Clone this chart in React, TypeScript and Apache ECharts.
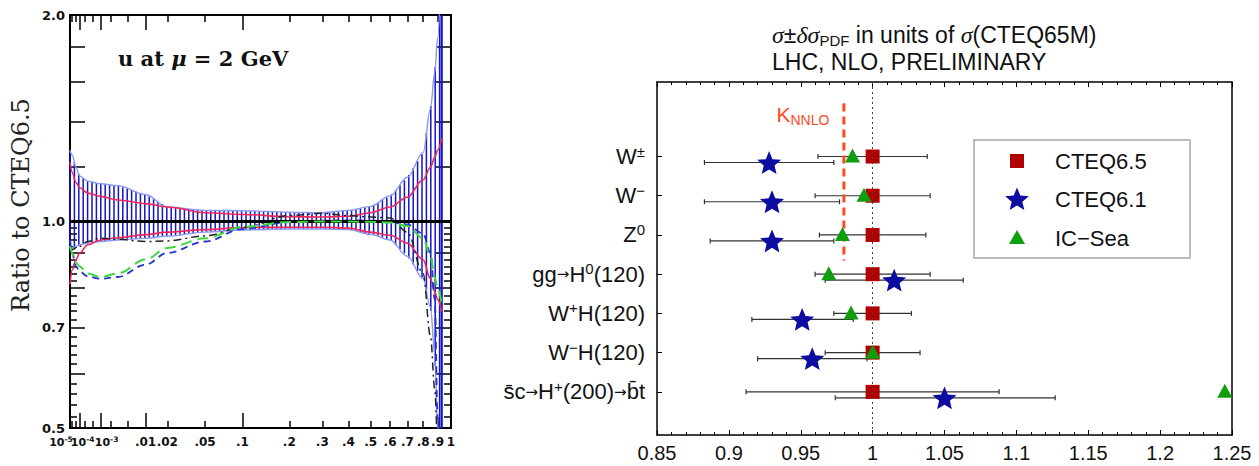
import React, { useEffect, useRef } from "react";
import * as echarts from "echarts";

// ---------------- Left panel: u at mu = 2 GeV, ratio to CTEQ6.5 ----------------
const X_PTS = [1e-5, 2e-5, 5e-5, 1e-4, 3e-4, 1e-3, 3e-3, 0.01, 0.02, 0.05, 0.1, 0.2, 0.3, 0.4, 0.5, 0.6, 0.7, 0.8, 0.85, 0.88, 0.9, 0.93];
const BAND_UPPER = [1.27, 1.25, 1.2, 1.165, 1.145, 1.135, 1.128, 1.095, 1.05, 1.038, 1.037, 1.032, 1.03, 1.038, 1.052, 1.09, 1.16, 1.26, 1.46, 1.65, 1.85, 2.5];
const BAND_LOWER = [0.91, 0.915, 0.92, 0.925, 0.93, 0.935, 0.94, 0.945, 0.952, 0.965, 0.972, 0.975, 0.975, 0.973, 0.958, 0.94, 0.89, 0.825, 0.75, 0.64, 0.5, 0.4];
const RED_UPPER = [1.22, 1.18, 1.14, 1.12, 1.1, 1.088, 1.075, 1.062, 1.05, 1.03, 1.024, 1.016, 1.015, 1.018, 1.03, 1.05, 1.085, 1.15, 1.2, 1.24, 1.27, 1.32];
const RED_LOWER = [0.81, 0.85, 0.88, 0.9, 0.925, 0.94, 0.947, 0.957, 0.965, 0.973, 0.98, 0.981, 0.981, 0.978, 0.965, 0.955, 0.93, 0.88, 0.825, 0.79, 0.77, 0.74];
const GREEN_DASHED = [0.92, 0.9, 0.87, 0.86, 0.84, 0.83, 0.84, 0.88, 0.915, 0.945, 0.982, 0.998, 1.0, 1.0, 0.999, 0.997, 0.985, 0.945, 0.89, 0.83, 0.8, 0.76];
const BLUE_DASHED = [0.94, 0.9, 0.86, 0.845, 0.832, 0.825, 0.83, 0.865, 0.9, 0.935, 0.975, 0.998, 1.003, 1.004, 1.003, 1.0, 0.99, 0.96, 0.9, 0.77, 0.52, 0.4];
const BLACK_DASHDOT = [0.9, 0.91, 0.915, 0.92, 0.935, 0.945, 0.942, 0.935, 0.937, 0.953, 0.98, 1.02, 1.028, 1.02, 1.015, 1.012, 0.965, 0.84, 0.68, 0.57, 0.48, 0.4];

const X_TICKS_MAJOR = [1e-4, 1e-3, 0.01, 0.1];
const X_TICKS_MINOR = [1e-5, 2e-5, 5e-5, 2e-4, 5e-4, 2e-3, 5e-3, 0.02, 0.05, 0.2, 0.3, 0.4, 0.5, 0.6, 0.7, 0.8, 0.9, 1];
const X_LABEL_VALUES = [1e-5, 1e-4, 1e-3, 0.01, 0.02, 0.05, 0.1, 0.2, 0.3, 0.4, 0.5, 0.6, 0.7, 0.8, 0.9, 1];
const X_LABELS = ["10{e|-5}", "10{e|-4}", "10{e|-3}", ".01", ".02", ".05", ".1", ".2", ".3", ".4", ".5", ".6", ".7", ".8", ".9", "1"];
const Y_TICKS_MAJOR = [0.5, 0.6, 0.7, 0.8, 0.9, 1.0, 1.2, 1.4, 1.6, 1.8, 2.0];
const Y_TICKS_MINOR = [0.52, 0.54, 0.56, 0.58, 0.62, 0.64, 0.66, 0.68, 0.72, 0.74, 0.76, 0.78, 0.82, 0.84, 0.86, 0.88, 0.92, 0.94, 0.96, 0.98];
const Y_LABEL_VALUES = [0.5, 0.7, 1.0, 2.0];
const LEFT_TITLE = "u at {i|μ} = 2 GeV";
const LEFT_YNAME = "Ratio to CTEQ6.5";

// ---------------- Right panel: cross sections ----------------
const ROW_LABELS = [
  "W{sup|±}",
  "W{sup|−}",
  "Z{sup|0}",
  "gg{ar|→}H{sup|0}(120)",
  "W{sup|+}H(120)",
  "W{sup|−}H(120)",
  "s\u0304c{ar|→}H{sup|+}(200){ar|→}b\u0304t",
];
const CT65_VAL = [1, 1, 1, 1, 1, 1, 1];
const CT65_LO = [0.962, 0.96, 0.963, 0.96, 0.973, 0.967, 0.912];
const CT65_HI = [1.038, 1.04, 1.037, 1.04, 1.027, 1.033, 1.088];
const CT61_VAL = [0.928, 0.93, 0.93, 1.015, 0.951, 0.958, 1.05];
const CT61_LO = [0.883, 0.883, 0.887, 0.967, 0.916, 0.92, 0.974];
const CT61_HI = [0.973, 0.977, 0.973, 1.063, 0.9865, 0.996, 1.127];
const ICSEA_VAL = [0.986, 0.994, 0.979, 0.9695, 0.985, 1.0, 1.245];
const K_NNLO = 0.98;
const K_ROW_SPAN = [-1.35, 2.65];
const LEGEND_NAMES = ["CTEQ6.5", "CTEQ6.1", "IC−Sea"];
const RIGHT_TITLE = "{g|σ}±{g|δσ}{sub|PDF} in units of {g|σ}(CTEQ65M)\nLHC, NLO, PRELIMINARY";

// ---------------- styling ----------------
const C65 = "#b00000";
const C61 = "#0c0ca0";
const CIC = "#0e9e0e";
const HATCH = "#1414c8";
const HATCH_STEP = 4.4;

const cb = (x: number) => Math.cbrt(x);
const lg = (v: number) => Math.log10(v);
const XMIN = cb(1e-5);
const YMIN = lg(0.5);
const YMAX = lg(2);

function starPoints(cx: number, cy: number, R: number, r: number): number[][] {
  const pts: number[][] = [];
  for (let i = 0; i < 10; i++) {
    const a = -Math.PI / 2 + (i * Math.PI) / 5;
    const rad = i % 2 === 0 ? R : r;
    pts.push([cx + rad * Math.cos(a), cy + rad * Math.sin(a)]);
  }
  return pts;
}
const STAR_PATH =
  "path://M" + starPoints(12, 12, 12, 5.4).map((p) => p[0].toFixed(2) + " " + p[1].toFixed(2)).join(" L") + " Z";

function curve(vals: number[]) {
  return X_PTS.map((x, i) => [cb(x), lg(vals[i])]);
}

function buildOption(): any {
  const hatchData = X_PTS.slice(0, -1).map((x, i) => [
    cb(x), lg(BAND_LOWER[i]), lg(BAND_UPPER[i]),
    cb(X_PTS[i + 1]), lg(BAND_LOWER[i + 1]), lg(BAND_UPPER[i + 1]),
  ]);
  const lastSeg = hatchData.length - 1;

  const leftLine = (name: string, vals: number[], color: string, width: number, type: any, extra: any = {}) => ({
    type: "line",
    name,
    xAxisIndex: 0,
    yAxisIndex: 0,
    data: curve(vals),
    smooth: 0.35,
    smoothMonotone: "x",
    symbol: "none",
    lineStyle: { color, width, type },
    silent: true,
    ...extra,
  });

  const xLabelText = (v: number) => {
    const i = X_LABEL_VALUES.findIndex((t) => Math.abs(cb(t) - v) < 1e-9);
    return i < 0 ? "" : X_LABELS[i];
  };

  const lx = (position: string, ticks: number[], len: number) => ({
    gridIndex: 0,
    type: "value",
    min: XMIN,
    max: 1,
    position,
    axisLine: { show: true, onZero: false, lineStyle: { color: "#000", width: 2 } },
    axisTick: { show: true, inside: true, length: len, customValues: ticks.map(cb), lineStyle: { color: "#000", width: 1.5 } },
    axisLabel: { show: false },
    splitLine: { show: false },
  });

  // label-only bottom axes (separate so the crowded decade labels are never auto-hidden)
  const lxLabels = (values: number[], wrap: (s: string) => string, fontSize: number) => ({
    gridIndex: 0,
    type: "value",
    min: XMIN,
    max: 1,
    position: "bottom",
    axisLine: { show: false, onZero: false },
    axisTick: { show: false },
    axisLabel: {
      show: true,
      showMinLabel: true,
      showMaxLabel: true,
      customValues: values.map(cb),
      formatter: (v: number) => wrap(xLabelText(v)),
      margin: 7,
      color: "#111",
      fontFamily: "DejaVu Sans",
      fontWeight: "bold",
      fontSize,
      lineHeight: 14,
      rich: {
        e: { fontSize: 7.5, fontWeight: "bold", fontFamily: "DejaVu Sans", lineHeight: 8, verticalAlign: "top", color: "#111" },
        g18: { width: 18 },
        g6: { width: 6 },
        g12: { width: 12 },
      },
    },
    splitLine: { show: false },
  });

  const ly = (position: string, ticks: number[], len: number, labels: boolean) => ({
    gridIndex: 0,
    type: "value",
    min: YMIN,
    max: YMAX,
    position,
    axisLine: { show: true, onZero: false, lineStyle: { color: "#000", width: 2 } },
    axisTick: { show: true, inside: true, length: len, customValues: ticks.map(lg), lineStyle: { color: "#000", width: 1.5 } },
    axisLabel: labels
      ? {
          show: true,
          showMinLabel: true,
          showMaxLabel: true,
          customValues: Y_LABEL_VALUES.map(lg),
          formatter: (v: number) => Math.pow(10, v).toFixed(1),
          margin: 5,
          color: "#111",
          fontFamily: "DejaVu Sans",
          fontWeight: "bold",
          fontSize: 13,
        }
      : { show: false },
    splitLine: { show: false },
  });

  const errRender = (dy: number) => (params: any, api: any) => {
    const row = api.value(0);
    const a = api.coord([api.value(1), row]);
    const b = api.coord([api.value(2), row]);
    const y = a[1] + dy;
    const st = { stroke: "#333", lineWidth: 1.2 };
    return {
      type: "group",
      children: [
        { type: "line", shape: { x1: a[0], y1: y, x2: b[0], y2: y }, style: st },
        { type: "line", shape: { x1: a[0], y1: y - 2.5, x2: a[0], y2: y + 2.5 }, style: st },
        { type: "line", shape: { x1: b[0], y1: y - 2.5, x2: b[0], y2: y + 2.5 }, style: st },
      ],
    };
  };

  const rxFmt = (v: number) => String(parseFloat(v.toFixed(2)));
  const rx = (position: string, labels: boolean) => ({
    gridIndex: 1,
    type: "value",
    min: 0.85,
    max: 1.25,
    interval: 0.05,
    position,
    axisLine: { show: true, onZero: false, lineStyle: { color: "#000", width: 1.5 } },
    axisTick: { show: true, inside: true, length: 5, lineStyle: { color: "#000", width: 1 } },
    minorTick: { show: true, splitNumber: 5, length: 3, lineStyle: { color: "#000", width: 1 } },
    axisLabel: labels
      ? {
          show: true,
          interval: 0,
          showMinLabel: true,
          showMaxLabel: true,
          formatter: rxFmt,
          margin: 8,
          color: "#111",
          fontFamily: "Liberation Sans",
          fontSize: 20,
        }
      : { show: false },
    splitLine: { show: false },
    minorSplitLine: { show: false },
  });

  const legendY = [161, 199, 238];
  const legendX = 1017;

  return {
    animation: false,
    backgroundColor: "#fff",
    title: {
      text: RIGHT_TITLE,
      left: 772,
      top: 21,
      padding: 0,
      textStyle: {
        fontFamily: "Liberation Sans",
        fontSize: 23,
        fontWeight: "normal",
        color: "#111",
        lineHeight: 27,
        rich: {
          g: { fontFamily: "Liberation Serif", fontStyle: "italic", fontSize: 24, lineHeight: 27, color: "#111" },
          sub: { fontFamily: "Liberation Sans", fontSize: 15, lineHeight: 16, verticalAlign: "bottom", color: "#111" },
        },
      },
    },
    grid: [
      { left: 70, top: 15, width: 381, height: 413, containLabel: false },
      { left: 657, top: 82, width: 575, height: 353, containLabel: false },
    ],
    xAxis: [
      lx("bottom", X_TICKS_MAJOR, 15),
      lx("bottom", X_TICKS_MINOR, 7),
      lx("top", X_TICKS_MAJOR, 15),
      lx("top", X_TICKS_MINOR, 7),
      rx("bottom", true),
      rx("top", false),
      lxLabels([X_LABEL_VALUES[0]], (s) => s + "{g18| }", 11),
      lxLabels([X_LABEL_VALUES[1]], (s) => "{g6| }" + s, 11),
      lxLabels([X_LABEL_VALUES[2]], (s) => "{g12| }" + s, 11),
      lxLabels(X_LABEL_VALUES.slice(3), (s) => s, 12),
    ],
    yAxis: [
      ly("left", Y_TICKS_MAJOR, 15, true),
      ly("left", Y_TICKS_MINOR, 7, false),
      ly("right", Y_TICKS_MAJOR, 15, false),
      ly("right", Y_TICKS_MINOR, 7, false),
      {
        gridIndex: 1,
        type: "value",
        inverse: true,
        min: -1.9,
        max: 7.1,
        position: "left",
        axisLine: { show: true, onZero: false, lineStyle: { color: "#000", width: 1.5 } },
        axisTick: { show: true, inside: true, length: 5, customValues: ROW_LABELS.map((_, i) => i), lineStyle: { color: "#000", width: 1 } },
        axisLabel: {
          show: true,
          customValues: ROW_LABELS.map((_, i) => i),
          formatter: (v: number) => ROW_LABELS[Math.round(v)] || "",
          margin: 12,
          color: "#111",
          fontFamily: "Liberation Sans",
          fontSize: 22,
          lineHeight: 26,
          rich: {
            sup: { fontFamily: "Liberation Sans", fontSize: 15, lineHeight: 14, verticalAlign: "top", color: "#111" },
            ar: { fontFamily: "DejaVu Sans", fontSize: 15, lineHeight: 26, color: "#111" },
          },
        },
        splitLine: { show: false },
      },
      {
        gridIndex: 1,
        type: "value",
        inverse: true,
        min: -1.9,
        max: 7.1,
        position: "right",
        axisLine: { show: true, onZero: false, lineStyle: { color: "#000", width: 1.5 } },
        axisTick: { show: false },
        axisLabel: { show: false },
        splitLine: { show: false },
      },
    ],
    series: [
      // ---------- left panel ----------
      {
        type: "custom",
        name: "band hatch",
        xAxisIndex: 0,
        yAxisIndex: 0,
        silent: true,
        data: hatchData,
        encode: { x: [0, 3], y: [1, 2, 4, 5] },
        renderItem: (params: any, api: any) => {
          const cs = params.coordSys;
          const lo0 = api.coord([api.value(0), api.value(1)]);
          const hi0 = api.coord([api.value(0), api.value(2)]);
          const lo1 = api.coord([api.value(3), api.value(4)]);
          const hi1 = api.coord([api.value(3), api.value(5)]);
          const children: any[] = [];
          const top = cs.y;
          const bot = cs.y + cs.height;
          const line = (px: number, t: number, w: number) => {
            let yT = hi0[1] + t * (hi1[1] - hi0[1]);
            let yB = lo0[1] + t * (lo1[1] - lo0[1]);
            yT = Math.max(top, yT);
            yB = Math.min(bot, yB);
            children.push({ type: "line", shape: { x1: px, y1: yT, x2: px, y2: yB }, style: { stroke: HATCH, lineWidth: w } });
          };
          const start = Math.ceil((lo0[0] - cs.x) / HATCH_STEP) * HATCH_STEP + cs.x;
          for (let px = start; px < lo1[0]; px += HATCH_STEP) {
            line(px, (px - lo0[0]) / (lo1[0] - lo0[0]), 1.5);
          }
          if (params.dataIndex === lastSeg) line(lo1[0], 1, 2.2);
          return { type: "group", children };
        },
        z: 1,
      },
      leftLine("band upper", BAND_UPPER, "#8a98f2", 1.4, "solid", {
        z: 2,
        markLine: {
          silent: true,
          symbol: ["none", "none"],
          label: { show: false },
          lineStyle: { color: "#000", width: 3, type: "solid" },
          data: [{ yAxis: 0 }],
        },
      }),
      leftLine("band lower", BAND_LOWER, "#8a98f2", 1.4, "solid", { z: 2 }),
      leftLine("red upper", RED_UPPER, "#f0285a", 1.6, "solid", { z: 3 }),
      leftLine("red lower", RED_LOWER, "#f0285a", 1.6, "solid", { z: 3 }),
      leftLine("black", BLACK_DASHDOT, "#222", 1.5, [8, 4, 2, 4], { z: 4 }),
      leftLine("blue", BLUE_DASHED, "#2233cc", 1.8, [7, 5], { z: 4 }),
      leftLine("green", GREEN_DASHED, "#3ed83e", 2, [11, 6], { z: 5 }),
      // ---------- right panel ----------
      {
        type: "custom",
        name: "CTEQ6.5 err",
        xAxisIndex: 4,
        yAxisIndex: 4,
        silent: true,
        data: ROW_LABELS.map((_, i) => [i, CT65_LO[i], CT65_HI[i]]),
        encode: { x: [1, 2], y: 0 },
        renderItem: errRender(0),
        markLine: {
          silent: true,
          symbol: ["none", "none"],
          label: { show: false },
          lineStyle: { color: "#444", width: 1, type: [2, 3] },
          data: [{ xAxis: 1 }],
        },
        z: 2,
      },
      {
        type: "custom",
        name: "CTEQ6.1 err",
        xAxisIndex: 4,
        yAxisIndex: 4,
        silent: true,
        data: ROW_LABELS.map((_, i) => [i, CT61_LO[i], CT61_HI[i]]),
        encode: { x: [1, 2], y: 0 },
        renderItem: errRender(6),
        z: 2,
      },
      {
        type: "line",
        name: "K_NNLO",
        xAxisIndex: 4,
        yAxisIndex: 4,
        silent: true,
        showSymbol: true,
        symbol: "circle",
        symbolSize: 1,
        itemStyle: { color: "#ff4a1c" },
        lineStyle: { color: "#ff4a1c", width: 3, type: [8, 5] },
        data: [
          {
            value: [K_NNLO, K_ROW_SPAN[0]],
            label: {
              show: true,
              position: "left",
              distance: 14,
              offset: [0, 11],
              formatter: "{k|K}{s|NNLO}",
              rich: {
                k: { fontFamily: "Liberation Sans", fontSize: 21, color: "#ff4a1c", lineHeight: 24 },
                s: { fontFamily: "Liberation Sans", fontSize: 14, color: "#ff4a1c", lineHeight: 14, verticalAlign: "bottom" },
              },
            },
          },
          [K_NNLO, K_ROW_SPAN[1]],
        ],
        z: 3,
      },
      {
        type: "scatter",
        name: LEGEND_NAMES[0],
        xAxisIndex: 4,
        yAxisIndex: 4,
        symbol: "rect",
        symbolSize: 14,
        itemStyle: { color: C65, opacity: 1 },
        data: CT65_VAL.map((v, i) => [v, i]),
        z: 4,
      },
      {
        type: "scatter",
        name: LEGEND_NAMES[1],
        xAxisIndex: 4,
        yAxisIndex: 4,
        symbol: STAR_PATH,
        symbolKeepAspect: true,
        symbolSize: 24,
        symbolOffset: [0, 6],
        itemStyle: { color: C61, opacity: 1 },
        data: CT61_VAL.map((v, i) => [v, i]),
        z: 5,
      },
      {
        type: "scatter",
        name: LEGEND_NAMES[2],
        xAxisIndex: 4,
        yAxisIndex: 4,
        symbol: "triangle",
        symbolSize: [15, 14],
        symbolOffset: [0, -1],
        itemStyle: { color: CIC, opacity: 1 },
        data: ICSEA_VAL.map((v, i) => [v, i]),
        z: 6,
      },
    ],
    graphic: [
      {
        type: "text",
        x: 118,
        y: 58,
        style: {
          text: LEFT_TITLE,
          fontFamily: "DejaVu Serif",
          fontSize: 21,
          fontWeight: "bold",
          fill: "#111",
          textVerticalAlign: "middle",
          rich: { i: { fontFamily: "DejaVu Serif", fontStyle: "italic", fontWeight: "bold", fontSize: 21, fill: "#111" } },
        },
        z: 10,
      },
      {
        type: "text",
        x: 21,
        y: 205,
        rotation: Math.PI / 2,
        style: {
          text: LEFT_YNAME,
          fontFamily: "DejaVu Serif",
          fontSize: 24,
          fill: "#222",
          textAlign: "center",
          textVerticalAlign: "middle",
        },
        z: 10,
      },
      {
        type: "rect",
        shape: { x: 974, y: 140, width: 216, height: 118 },
        style: { fill: "#fff", stroke: "#bdbdbd", lineWidth: 2 },
        z: 10,
      },
      {
        type: "rect",
        shape: { x: legendX - 7, y: legendY[0] - 7, width: 14, height: 14 },
        style: { fill: C65 },
        z: 11,
      },
      {
        type: "polygon",
        shape: { points: starPoints(legendX, legendY[1] + 1, 12.5, 5.6) },
        style: { fill: C61 },
        z: 11,
      },
      {
        type: "polygon",
        shape: { points: [[legendX, legendY[2] - 8], [legendX + 8, legendY[2] + 6], [legendX - 8, legendY[2] + 6]] },
        style: { fill: CIC },
        z: 11,
      },
      ...LEGEND_NAMES.map((n, i) => ({
        type: "text",
        x: 1055,
        y: legendY[i],
        style: { text: n, fontFamily: "Liberation Sans", fontSize: 22, fill: "#111", textVerticalAlign: "middle" },
        z: 11,
      })),
    ],
  };
}

export default function App() {
  const ref = useRef<HTMLDivElement>(null);
  useEffect(() => {
    if (!ref.current) return;
    const chart = echarts.init(ref.current, null, { renderer: "svg" });
    chart.setOption(buildOption());
    return () => chart.dispose();
  }, []);
  return (
    <div
      ref={ref}
      style={{ position: "fixed", left: 0, top: 0, width: 1259, height: 466, background: "#fff" }}
    />
  );
}
